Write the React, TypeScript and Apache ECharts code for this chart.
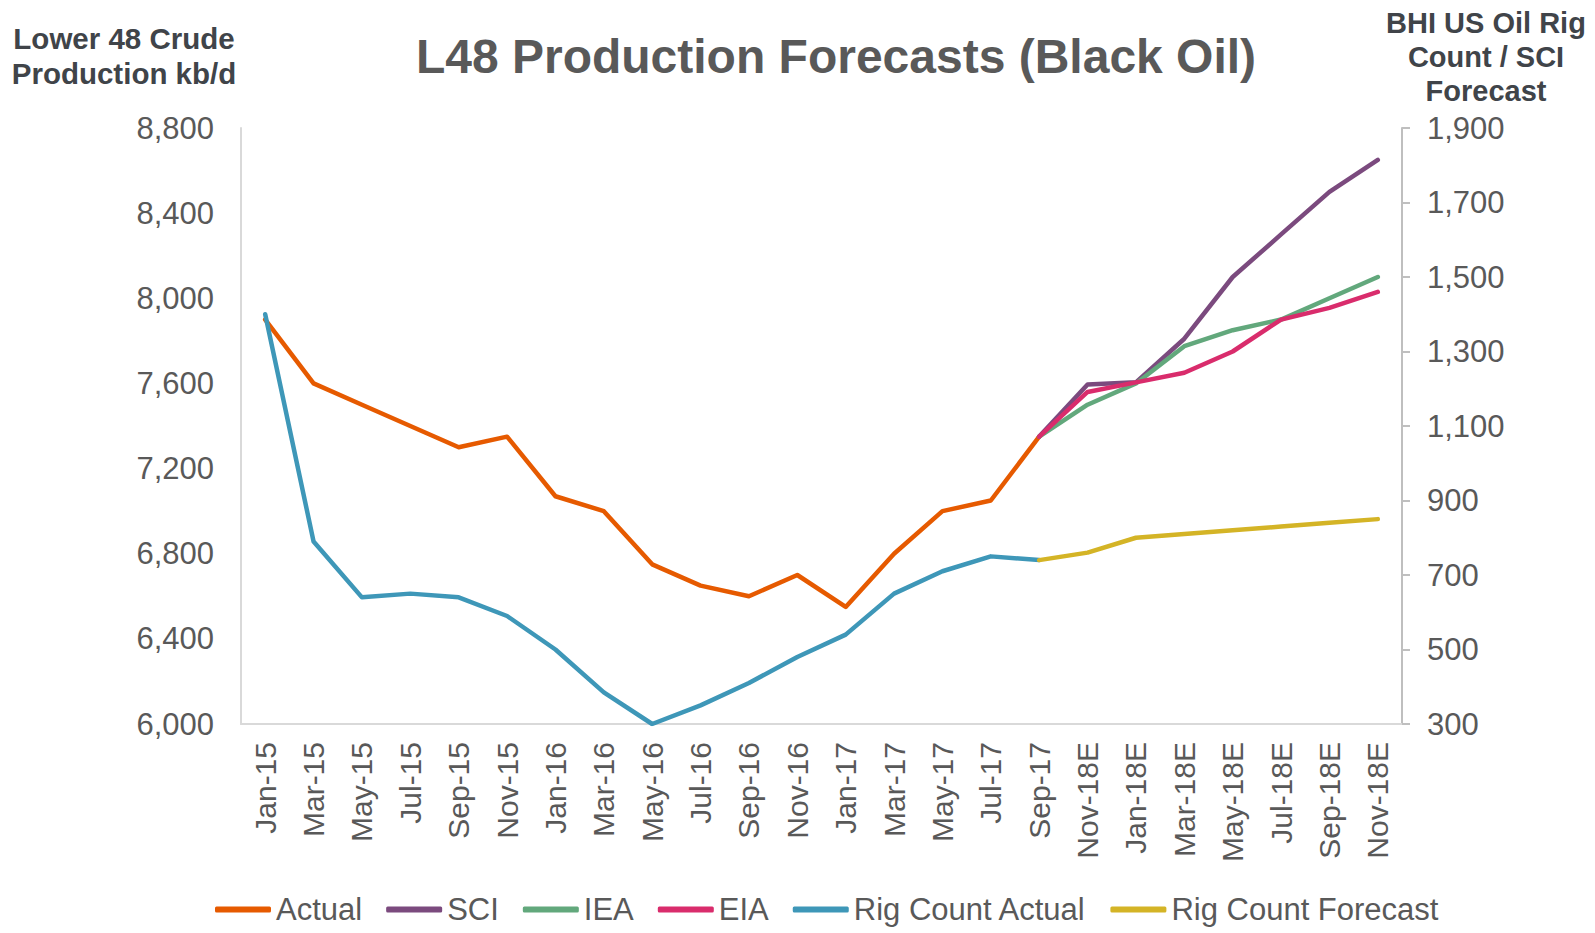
import React, { useEffect, useRef } from 'react';
import * as echarts from 'echarts';

const categories = [
  'Jan-15', 'Mar-15', 'May-15', 'Jul-15', 'Sep-15', 'Nov-15',
  'Jan-16', 'Mar-16', 'May-16', 'Jul-16', 'Sep-16', 'Nov-16',
  'Jan-17', 'Mar-17', 'May-17', 'Jul-17', 'Sep-17',
  'Nov-18E', 'Jan-18E', 'Mar-18E', 'May-18E', 'Jul-18E', 'Sep-18E', 'Nov-18E',
];

const N = null;
const actual = [7900, 7600, 7500, 7400, 7300, 7350, 7070, 7000, 6750, 6650, 6600, 6700, 6550, 6800, 7000, 7050, 7350, N, N, N, N, N, N, N];
const sci = [N, N, N, N, N, N, N, N, N, N, N, N, N, N, N, N, 7350, 7595, 7605, 7810, 8100, 8300, 8500, 8650];
const iea = [N, N, N, N, N, N, N, N, N, N, N, N, N, N, N, N, 7350, 7500, 7600, 7775, 7850, 7900, 8000, 8100];
const eia = [N, N, N, N, N, N, N, N, N, N, N, N, N, N, N, N, 7350, 7560, 7605, 7650, 7750, 7900, 7955, 8030];
const rigActual = [1400, 790, 640, 650, 640, 590, 500, 385, 300, 350, 410, 480, 540, 650, 710, 750, 740, N, N, N, N, N, N, N];
const rigForecast = [N, N, N, N, N, N, N, N, N, N, N, N, N, N, N, N, 740, 760, 800, 810, 820, 830, 840, 850];

const rightTicks = [300, 500, 700, 900, 1100, 1300, 1500, 1700, 1900];

const FONT = '"Liberation Sans", Arial, Helvetica, sans-serif';

const colors = {
  actual: '#E65A00',
  sci: '#7B4A7E',
  iea: '#62A87C',
  eia: '#D92C6C',
  rigActual: '#3E97B8',
  rigForecast: '#D4B426',
};

function mk(name: string, data: (number | null)[], color: string, yAxisIndex: number) {
  return {
    type: 'line',
    name,
    data,
    yAxisIndex,
    showSymbol: false,
    symbol: 'none',
    connectNulls: false,
    lineStyle: { color, width: 4.5, cap: 'round', join: 'round' },
    itemStyle: { color },
    emphasis: { disabled: true },
  };
}

const fmt = (v: number) => v.toLocaleString('en-US');

export default function App() {
  const ref = useRef<HTMLDivElement>(null);
  useEffect(() => {
    document.body.style.margin = '0';
    const chart = echarts.init(ref.current!, null, { renderer: 'svg' });
    chart.setOption({
      animation: false,
      backgroundColor: '#ffffff',
      textStyle: { fontFamily: FONT },
      grid: { left: 241, right: 193, top: 128, bottom: 209, containLabel: false },
      graphic: [
        {
          type: 'text', x: 836, y: 56,
          style: {
            text: 'L48 Production Forecasts (Black Oil)', fill: '#595959',
            fontFamily: FONT, fontSize: 48, fontWeight: 'bold', align: 'center', verticalAlign: 'middle',
          },
        },
        {
          type: 'text', x: 124, y: 56,
          style: {
            text: 'Lower 48 Crude\nProduction kb/d', fill: '#404449',
            fontFamily: FONT, fontSize: 29.5, fontWeight: 'bold', align: 'center', verticalAlign: 'middle', lineHeight: 35,
          },
        },
        {
          type: 'text', x: 1486, y: 57,
          style: {
            text: 'BHI US Oil Rig\nCount / SCI\nForecast', fill: '#404449',
            fontFamily: FONT, fontSize: 29, fontWeight: 'bold', align: 'center', verticalAlign: 'middle', lineHeight: 34,
          },
        },
      ],
      legend: {
        left: 210,
        top: 889,
        itemWidth: 56,
        itemHeight: 6,
        itemGap: 24,
        textStyle: { fontSize: 31, color: '#595959', fontFamily: FONT },
        data: [
          { name: 'Actual', icon: 'roundRect' },
          { name: 'SCI', icon: 'roundRect' },
          { name: 'IEA', icon: 'roundRect' },
          { name: 'EIA', icon: 'roundRect' },
          { name: 'Rig Count Actual', icon: 'roundRect' },
          { name: 'Rig Count Forecast', icon: 'roundRect' },
        ],
        selectedMode: false,
      },
      xAxis: {
        type: 'category',
        data: categories,
        boundaryGap: true,
        axisLine: { show: true, lineStyle: { color: '#D9D9D9', width: 2 } },
        axisTick: { show: false },
        splitLine: { show: false },
        axisLabel: {
          interval: 0, rotate: 90, margin: 18,
          fontSize: 30, color: '#595959', fontFamily: FONT,
        },
      },
      yAxis: [
        {
          type: 'value',
          min: 6000, max: 8800, interval: 400,
          position: 'left',
          axisLine: { show: true, lineStyle: { color: '#D9D9D9', width: 2 } },
          axisTick: { show: false },
          splitLine: { show: false },
          axisLabel: { fontSize: 31, color: '#595959', margin: 27, formatter: fmt, fontFamily: FONT },
        },
        {
          type: 'value',
          min: 300, max: 1900,
          position: 'right',
          axisLine: { show: true, lineStyle: { color: '#BFBFBF', width: 2 } },
          axisTick: { show: true, length: 8, inside: false, customValues: rightTicks, lineStyle: { color: '#BFBFBF', width: 2 } },
          splitLine: { show: false },
          axisLabel: { fontSize: 31, color: '#595959', margin: 25, formatter: fmt, customValues: rightTicks, fontFamily: FONT },
        },
      ],
      series: [
        mk('Actual', actual, colors.actual, 0),
        mk('SCI', sci, colors.sci, 0),
        mk('IEA', iea, colors.iea, 0),
        mk('EIA', eia, colors.eia, 0),
        mk('Rig Count Actual', rigActual, colors.rigActual, 1),
        mk('Rig Count Forecast', rigForecast, colors.rigForecast, 1),
      ],
    });
    return () => chart.dispose();
  }, []);
  return <div ref={ref} style={{ width: 1595, height: 933 }} />;
}
